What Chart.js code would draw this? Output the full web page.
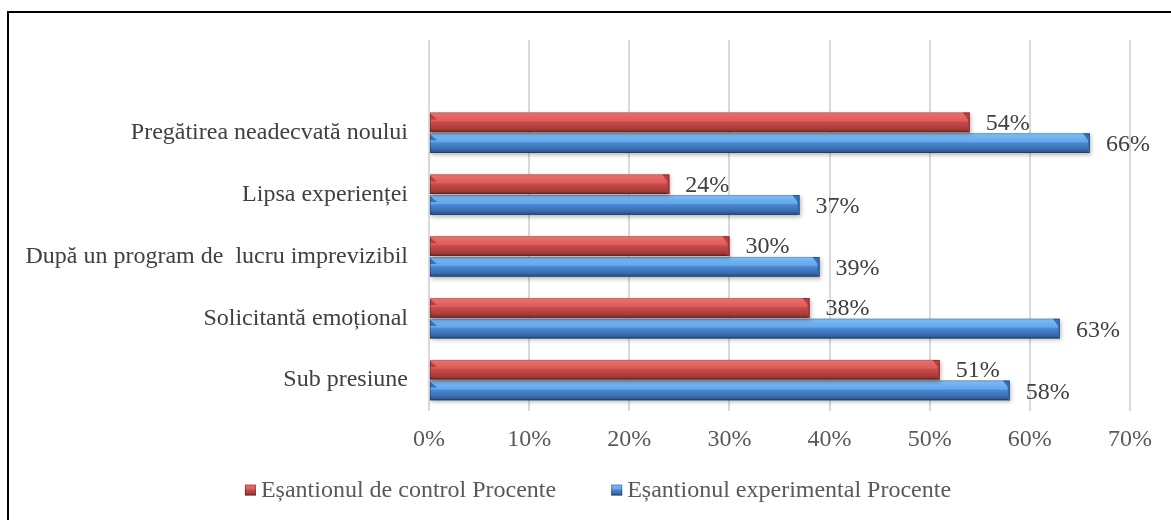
<!DOCTYPE html>
<html>
<head>
<meta charset="utf-8">
<script src="https://cdn.jsdelivr.net/npm/chart.js@4.4.1/dist/chart.umd.min.js"></script>
<style>
  html, body { margin: 0; padding: 0; background: #ffffff; }
  #wrap { width: 1171px; height: 520px; position: relative; overflow: hidden; }
  canvas { display: block; }
</style>
</head>
<body>
<div id="wrap"><canvas id="chart" width="1171" height="520"></canvas></div>
<script>
// Categories (top to bottom) and values in percent
const categories = [
  "Pregătirea neadecvată noului",
  "Lipsa experienței",
  "După un program de  lucru imprevizibil",
  "Solicitantă emoțional",
  "Sub presiune"
];
const controlValues = [54, 24, 30, 38, 51];
const experimentalValues = [66, 37, 39, 63, 58];
const seriesNames = ["Eșantionul de control Procente", "Eșantionul experimental Procente"];
const xTickValues = [0, 10, 20, 30, 40, 50, 60, 70];

const FONT = '"Liberation Serif", "Times New Roman", serif';

// Bevelled bar shading for each series
const palettes = [
  { base: '#c44a48', face: '#b8403e',
    stops: [[0, '#f4a3a1'], [0.08, '#ea6d6b'], [0.42, '#de5c5a'], [0.5, '#c64a48'], [0.8, '#ad3d3b'], [1, '#7e2a29']] },
  { base: '#4683cf', face: '#3a70b8',
    stops: [[0, '#acd6fb'], [0.08, '#79baf3'], [0.42, '#64a7eb'], [0.5, '#4887d3'], [0.8, '#3a6db0'], [1, '#284e84']] }
];

function barGradient(ctx, pal, top, bot) {
  const g = ctx.createLinearGradient(0, top, 0, bot);
  pal.stops.forEach(s => g.addColorStop(s[0], s[1]));
  return g;
}

// White page with a dark frame on the left and top edges
const framePlugin = {
  id: 'frame',
  beforeDraw(chart) {
    const ctx = chart.ctx;
    ctx.save();
    ctx.fillStyle = '#ffffff';
    ctx.fillRect(0, 0, chart.width, chart.height);
    ctx.strokeStyle = '#000000';
    ctx.lineWidth = 2;
    ctx.strokeRect(8, 12, chart.width + 100, chart.height + 100);
    ctx.restore();
  }
};

// Soft shadow plus bevelled gradient over each bar
const bevelPlugin = {
  id: 'bevel',
  beforeDatasetDraw(chart) {
    const ctx = chart.ctx;
    ctx.save();
    ctx.shadowColor = 'rgba(0,0,0,0.28)';
    ctx.shadowBlur = 4;
    ctx.shadowOffsetX = 1;
    ctx.shadowOffsetY = 2;
  },
  afterDatasetDraw(chart, args) {
    const ctx = chart.ctx;
    ctx.restore();
    const meta = args.meta;
    const pal = palettes[meta.index];
    const raw = chart.data.datasets[meta.index].data;
    meta.data.forEach((el, i) => {
      if (raw[i] == null) return;
      const p = el.getProps(['x', 'y', 'base', 'height'], true);
      const top = p.y - p.height / 2, bot = p.y + p.height / 2;
      const left = Math.min(p.base, p.x), right = Math.max(p.base, p.x);
      const b = 7;
      ctx.save();
      ctx.fillStyle = barGradient(ctx, pal, top, bot);
      ctx.fillRect(left, top, right - left, p.height);
      // bevel at the left end
      ctx.fillStyle = pal.face;
      ctx.beginPath();
      ctx.moveTo(left, top + 1);
      ctx.lineTo(left + b, top + b);
      ctx.lineTo(left, top + b);
      ctx.closePath();
      ctx.fill();
      // bevel at the right end
      ctx.beginPath();
      ctx.moveTo(right - b, top);
      ctx.lineTo(right, top);
      ctx.lineTo(right, bot);
      ctx.lineTo(right - 2, bot);
      ctx.lineTo(right - 2, top + b);
      ctx.closePath();
      ctx.fill();
      ctx.strokeStyle = 'rgba(0,0,0,0.25)';
      ctx.lineWidth = 1;
      ctx.strokeRect(left + 0.5, top + 0.5, right - left - 1, p.height - 1);
      ctx.restore();
    });
  }
};

// Value labels to the right of each bar
const valueLabelPlugin = {
  id: 'valueLabels',
  afterDatasetsDraw(chart) {
    const ctx = chart.ctx;
    ctx.save();
    ctx.font = '24px ' + FONT;
    ctx.fillStyle = '#404040';
    ctx.textAlign = 'left';
    ctx.textBaseline = 'middle';
    chart.data.datasets.forEach((ds, di) => {
      const meta = chart.getDatasetMeta(di);
      meta.data.forEach((el, i) => {
        const v = ds.data[i];
        if (v == null) return;
        ctx.fillText(v + '%', el.x + 16, el.y + (di === 0 ? 1 : 2));
      });
    });
    ctx.restore();
  }
};

// Legend row below the axis
const legendPlugin = {
  id: 'legendRow',
  afterDraw(chart) {
    const ctx = chart.ctx;
    ctx.save();
    ctx.font = '24px ' + FONT;
    const box = 11, gap = 5, spacing = 55, cy = 491, centerX = 598;
    const widths = seriesNames.map(n => ctx.measureText(n).width);
    const total = widths.reduce((a, w) => a + box + gap + w, 0) + spacing * (seriesNames.length - 1);
    let x = centerX - total / 2;
    seriesNames.forEach((name, i) => {
      const pal = palettes[i];
      const top = cy - box / 2 - 1;
      ctx.fillStyle = barGradient(ctx, pal, top, top + box);
      ctx.fillRect(x, top, box, box);
      ctx.strokeStyle = 'rgba(0,0,0,0.3)';
      ctx.lineWidth = 1;
      ctx.strokeRect(x + 0.5, top + 0.5, box - 1, box - 1);
      ctx.fillStyle = '#595959';
      ctx.textAlign = 'left';
      ctx.textBaseline = 'middle';
      ctx.fillText(name, x + box + gap, cy);
      x += box + gap + widths[i] + spacing;
    });
    ctx.restore();
  }
};

const labels = [''].concat(categories);

new Chart(document.getElementById('chart'), {
  type: 'bar',
  data: {
    labels: labels,
    datasets: [
      { label: seriesNames[0], data: [null].concat(controlValues), backgroundColor: palettes[0].base,
        borderWidth: 0, categoryPercentage: 0.67, barPercentage: 0.95 },
      { label: seriesNames[1], data: [null].concat(experimentalValues), backgroundColor: palettes[1].base,
        borderWidth: 0, categoryPercentage: 0.67, barPercentage: 0.95 }
    ]
  },
  options: {
    indexAxis: 'y',
    responsive: false,
    animation: false,
    devicePixelRatio: 1,
    layout: { padding: { left: 0, right: 41, top: 40, bottom: 59 } },
    plugins: {
      legend: { display: false },
      tooltip: { enabled: false }
    },
    scales: {
      x: {
        type: 'linear',
        min: 0,
        max: 70,
        afterBuildTicks(scale) { scale.ticks = xTickValues.map(v => ({ value: v })); },
        afterFit(scale) { scale.height = 50; },
        grid: { color: '#d9d9d9', lineWidth: 2, drawTicks: false },
        border: { display: false },
        ticks: {
          padding: 14,
          color: '#595959',
          font: { family: FONT, size: 24 },
          callback: v => v + '%'
        }
      },
      y: {
        afterFit(scale) { scale.width = 429; },
        grid: { display: false, drawTicks: false },
        border: { display: false },
        ticks: {
          padding: 21,
          color: '#404040',
          font: { family: FONT, size: 24 }
        }
      }
    }
  },
  plugins: [framePlugin, bevelPlugin, valueLabelPlugin, legendPlugin]
});
</script>
</body>
</html>
